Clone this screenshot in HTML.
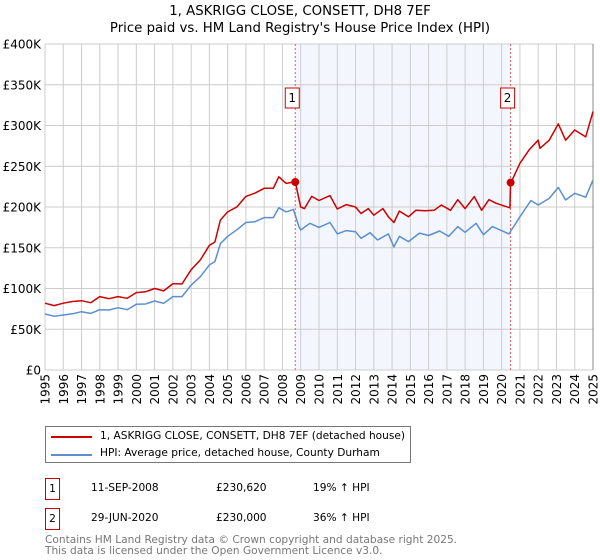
<!DOCTYPE html>
<html><head><meta charset="utf-8"><style>
body{margin:0;background:#fff;font-family:"DejaVu Sans","Liberation Sans",sans-serif;}
#wrap{position:relative;width:600px;height:560px;overflow:hidden}
.t{position:absolute;font-size:10.6px;color:#000;white-space:nowrap}
</style></head><body>
<div id="wrap">
<svg id="chart" width="600" height="425" style="position:absolute;left:0;top:0"></svg>
<div style="position:absolute;left:45px;top:426px;width:366px;height:37px;border:1px solid #777;box-sizing:border-box">
 <div><div style="position:absolute;left:5px;top:9px;width:41px;height:2px;background:#cc0000"></div><span class="t" style="left:54px;top:3px">1, ASKRIGG CLOSE, CONSETT, DH8 7EF (detached house)</span></div>
 <div><div style="position:absolute;left:5px;top:27px;width:41px;height:2px;background:#5b8fd0"></div><span class="t" style="left:54px;top:20px">HPI: Average price, detached house, County Durham</span></div>
</div>
<div>
 <div class="t" style="left:45px;top:478px;width:13px;height:20px;border:1px solid #cc0000;text-align:center;line-height:20px">1</div>
 <span class="t" style="left:91px;top:482px">11-SEP-2008</span><span class="t" style="left:216px;top:482px">£230,620</span><span class="t" style="left:313px;top:482px">19% ↑ HPI</span>
</div>
<div>
 <div class="t" style="left:45px;top:508px;width:13px;height:20px;border:1px solid #cc0000;text-align:center;line-height:20px">2</div>
 <span class="t" style="left:91px;top:512px">29-JUN-2020</span><span class="t" style="left:216px;top:512px">£230,000</span><span class="t" style="left:313px;top:512px">36% ↑ HPI</span>
</div>
<div class="t" style="left:45px;top:535px;color:#777;font-size:10.6px;line-height:11px">Contains HM Land Registry data © Crown copyright and database right 2025.<br>This data is licensed under the Open Government Licence v3.0.</div>
</div>
<script>
const yTicks=[0,50,100,150,200,250,300,350,400];
const yTickLabels=["£0","£50K","£100K","£150K","£200K","£250K","£300K","£350K","£400K"];
const years=[1995,1996,1997,1998,1999,2000,2001,2002,2003,2004,2005,2006,2007,2008,2009,2010,2011,2012,2013,2014,2015,2016,2017,2018,2019,2020,2021,2022,2023,2024,2025];
const redT=[1995,1995.5,1996,1996.5,1997,1997.5,1998,1998.5,1999,1999.5,2000,2000.5,2001,2001.5,2002,2002.5,2003,2003.5,2004,2004.3,2004.6,2005,2005.5,2006,2006.5,2007,2007.5,2007.8,2008.2,2008.7,2008.9,2009.0,2009.2,2009.6,2010,2010.6,2011,2011.5,2012,2012.3,2012.7,2013,2013.5,2013.8,2014.1,2014.4,2014.9,2015.3,2015.8,2016.3,2016.7,2017.2,2017.6,2018,2018.5,2018.9,2019.3,2019.7,2020.45,2020.49,2021,2021.5,2022,2022.1,2022.6,2023.1,2023.5,2024,2024.6,2025];
const redV=[82,79,82,84,85,82.6,90,87.5,90,88,95,96,100,97,106,105.5,123,135,153,157,184,194,200,213,217,223,223,237,229,231,210,200,198,213,208,214,197.5,203,200,192,198,190,198,188,181,195,188,196,195.5,196,202.5,196,209,198,212.7,196,209,204.5,199,229,253.6,270,282,272,282,302,282,294.5,286,317];
const blueT=[1995,1995.5,1996,1996.5,1997,1997.5,1998,1998.5,1999,1999.5,2000,2000.5,2001,2001.5,2002,2002.5,2003,2003.5,2004,2004.3,2004.6,2005,2005.5,2006,2006.5,2007,2007.5,2007.8,2008.2,2008.6,2008.9,2009,2009.5,2010,2010.6,2011,2011.5,2012,2012.3,2012.8,2013.2,2013.8,2014.1,2014.4,2014.9,2015.5,2016,2016.6,2017.1,2017.6,2018,2018.6,2019,2019.5,2020.4,2021,2021.6,2022,2022.6,2023.1,2023.5,2024,2024.6,2025];
const blueV=[68.7,66,67.5,69,71.5,69.5,74,73.6,76.5,74,80.6,81,84.7,81.8,90,90,104,114.5,129,133,155,164,172,181,182,187,187,199,194,197,176,171.8,180,175,181,167,171,169.7,161.6,168.5,159.5,167,151,164,157.5,168,165,170.6,164,176,169,180,166,176,167,188,208,202.5,210.6,224,208.6,216.8,212,233];
const saleT=[2008.7,2020.49];
const saleV=[230.62,230];
const saleLabels=["1","2"];

const X0=45,X1=593,Y0=370,Y1=44;
const xs=t=>X0+(t-1995)/30*(X1-X0);
const ys=v=>Y0-v/400*(Y0-Y1);
const NS="http://www.w3.org/2000/svg";
const svg=document.getElementById('chart');
function mk(tag,a,parent){const e=document.createElementNS(NS,tag);for(const k in a)e.setAttribute(k,a[k]);(parent||svg).appendChild(e);return e;}
function txt(s,a){const e=mk('text',a);e.textContent=s;return e;}

const shade=mk('rect',{x:xs(saleT[0]),y:Y1,width:xs(saleT[1])-xs(saleT[0]),height:Y0-Y1,fill:'#eef3fc',opacity:0.7});


years.forEach(y=>{const l=mk('line',{x1:xs(y),x2:xs(y),y1:Y1,y2:Y0,stroke:'#cccccc','stroke-width':1});


const t=txt(String(y),{x:0,y:0,transform:`translate(${xs(y)+4.5},374) rotate(-90)`,'text-anchor':'end','font-size':12,fill:'#000'});

});
yTicks.forEach((v,i)=>{const l=mk('line',{x1:X0,x2:X1,y1:ys(v),y2:ys(v),stroke:'#cccccc','stroke-width':1});


const t=txt(yTickLabels[i],{x:41,y:ys(v)+4.5,'text-anchor':'end','font-size':12,fill:'#000'});

});
const rb=mk('line',{x1:X1,x2:X1,y1:Y1,y2:Y0,stroke:'#888','stroke-width':1});



saleT.forEach((t,i)=>{const l=mk('line',{x1:xs(t),x2:xs(t),y1:Y1,y2:Y0,stroke:'#e06060','stroke-width':1,'stroke-dasharray':'2,2'});


const b=mk('rect',{x:xs(t)-10,y:88,width:14,height:20,fill:'#fff',stroke:'#cc0000'});


const tt=txt(saleLabels[i],{x:xs(t)-3,y:102,'text-anchor':'middle','font-size':12,fill:'#000'});

});

function path(T,V,color,name){const d=T.map((t,i)=>(i?'L':'M')+xs(t).toFixed(1)+','+ys(V[i]).toFixed(1)).join('');
const p=mk('path',{d:d,fill:'none',stroke:color,'stroke-width':1.5,'stroke-linejoin':'round'});

}
path(blueT,blueV,'#5b8fd0','hpi-line');
path(redT,redV,'#cc0000','property-price-line');
saleT.forEach((t,i)=>{const c=mk('circle',{cx:xs(t),cy:ys(saleV[i]),r:4,fill:'#cc0000'});

});

const t1=txt('1, ASKRIGG CLOSE, CONSETT, DH8 7EF',{x:300,y:15,'text-anchor':'middle','font-size':13.3,fill:'#000'});


const t2=txt("Price paid vs. HM Land Registry's House Price Index (HPI)",{x:300,y:32,'text-anchor':'middle','font-size':13.3,fill:'#000'});


</script>
</body></html>
